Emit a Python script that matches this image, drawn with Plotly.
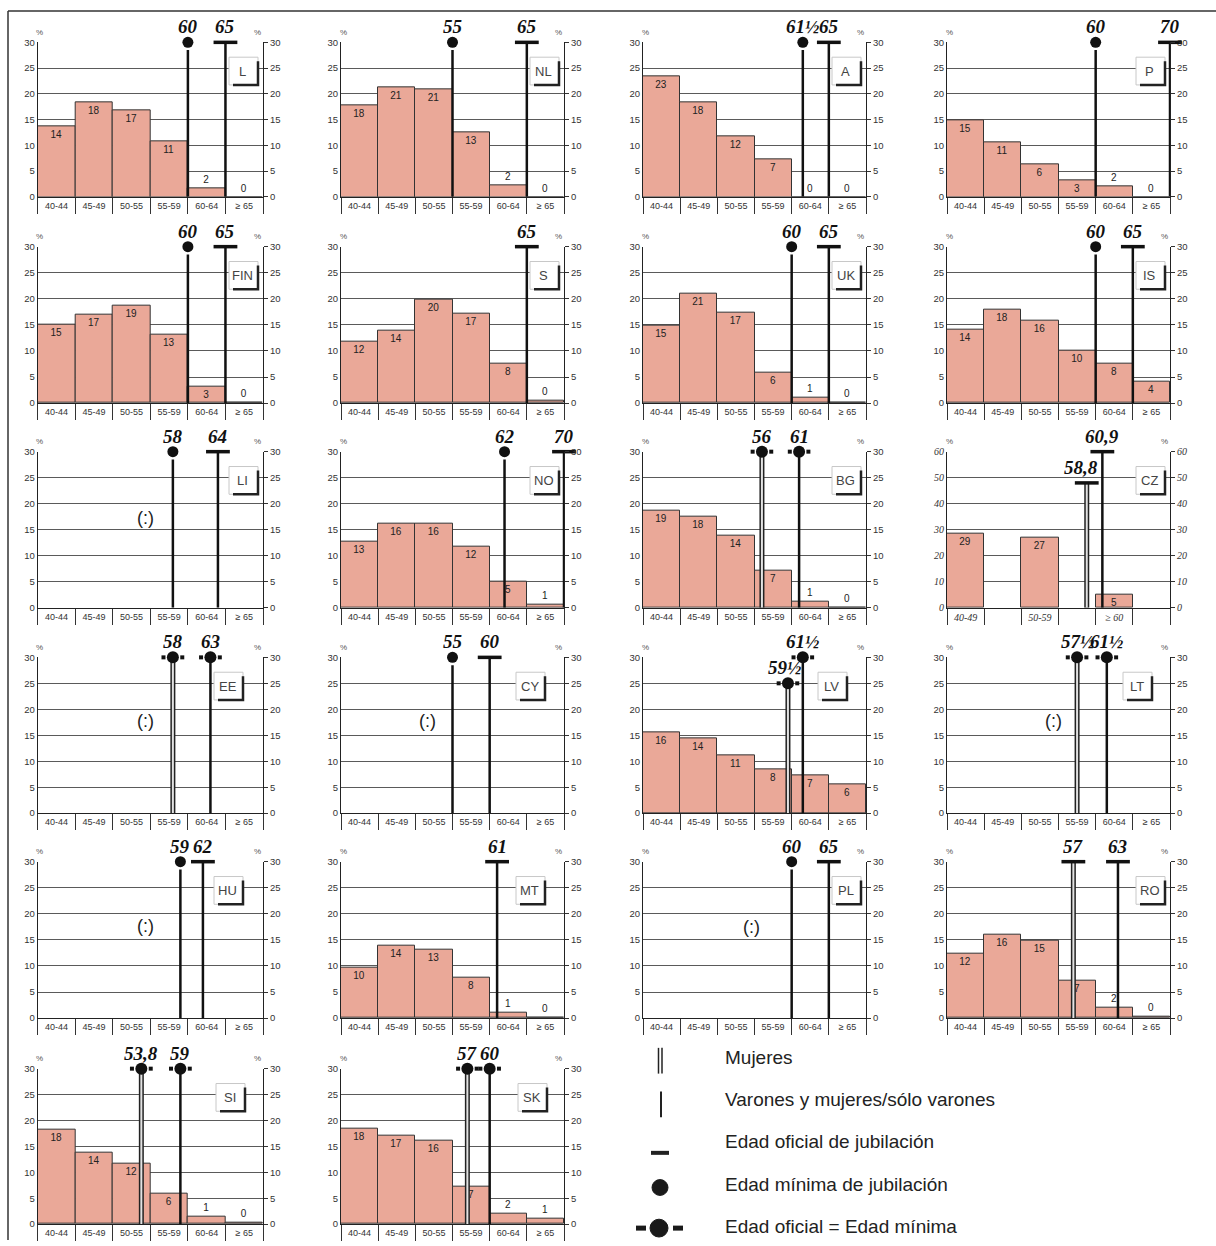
import plotly.graph_objects as go

W, H = 1216, 1246

# ---------------- data ----------------
categories = ["40-44", "45-49", "50-55", "55-59", "60-64", "≥ 65"]
cz_categories = ["40-49", "50-59", "≥ 60"]

countries = ["L", "NL", "A", "P", "FIN", "S", "UK", "IS", "LI", "NO", "BG", "CZ",
             "EE", "CY", "LV", "LT", "HU", "MT", "PL", "RO", "SI", "SK"]

share_L = [13.6, 18.3, 16.8, 10.7, 1.6, 0.0]
share_NL = [17.7, 21.3, 20.8, 12.6, 2.3, 0.0]
share_A = [23.4, 18.4, 11.7, 7.2, 0.0, 0.0]
share_P = [14.8, 10.6, 6.4, 3.3, 2.1, 0.0]
share_FIN = [15.0, 16.9, 18.6, 13.1, 3.2, 0.0]
share_S = [11.8, 13.9, 19.9, 17.1, 7.6, 0.4]
share_UK = [14.8, 20.9, 17.3, 5.9, 1.0, 0.0]
share_IS = [14.0, 18.0, 15.8, 10.1, 7.6, 4.2]
share_LI = None
share_NO = [12.7, 16.2, 16.2, 11.7, 5.1, 0.6]
share_BG = [18.7, 17.6, 13.8, 7.2, 1.1, 0.0]
share_CZ = [28.6, 27.0, 4.9]
share_EE = None
share_CY = None
share_LV = [15.6, 14.4, 11.2, 8.4, 7.2, 5.6]
share_LT = None
share_HU = None
share_MT = [9.7, 13.9, 13.1, 7.8, 1.0, 0.0]
share_PL = None
share_RO = [12.4, 16.0, 14.9, 7.1, 2.1, 0.2]
share_SI = [18.2, 13.8, 11.7, 5.9, 1.4, 0.3]
share_SK = [18.4, 17.0, 16.2, 7.3, 2.0, 1.1]

shares = [share_L, share_NL, share_A, share_P, share_FIN, share_S, share_UK, share_IS,
          share_LI, share_NO, share_BG, share_CZ, share_EE, share_CY, share_LV, share_LT,
          share_HU, share_MT, share_PL, share_RO, share_SI, share_SK]

# retirement ages: (age, label, kind, women)  kind: min / off / eq (official = minimum)
ages_L = [(60, "60", "min", False), (65, "65", "off", False)]
ages_NL = [(55, "55", "min", False), (65, "65", "off", False)]
ages_A = [(61.5, "61½", "min", False), (65, "65", "off", False)]
ages_P = [(60, "60", "min", False), (70, "70", "off", False)]
ages_FIN = [(60, "60", "min", False), (65, "65", "off", False)]
ages_S = [(65, "65", "off", False)]
ages_UK = [(60, "60", "min", False), (65, "65", "off", False)]
ages_IS = [(60, "60", "min", False), (65, "65", "off", False)]
ages_LI = [(58, "58", "min", False), (64, "64", "off", False)]
ages_NO = [(62, "62", "min", False), (70, "70", "off", False)]
ages_BG = [(56, "56", "eq", True), (61, "61", "eq", False)]
ages_CZ = [(58.8, "58,8", "off", True), (60.9, "60,9", "off", False)]
ages_EE = [(58, "58", "eq", True), (63, "63", "eq", False)]
ages_CY = [(55, "55", "min", False), (60, "60", "off", False)]
ages_LV = [(59.5, "59½", "eq", True), (61.5, "61½", "eq", False)]
ages_LT = [(57.5, "57½", "eq", True), (61.5, "61½", "eq", False)]
ages_HU = [(59, "59", "min", False), (62, "62", "off", False)]
ages_MT = [(61, "61", "off", False)]
ages_PL = [(60, "60", "min", False), (65, "65", "off", False)]
ages_RO = [(57, "57", "off", True), (63, "63", "off", False)]
ages_SI = [(53.8, "53,8", "eq", True), (59, "59", "eq", False)]
ages_SK = [(57, "57", "eq", True), (60, "60", "eq", False)]

ages = [ages_L, ages_NL, ages_A, ages_P, ages_FIN, ages_S, ages_UK, ages_IS,
        ages_LI, ages_NO, ages_BG, ages_CZ, ages_EE, ages_CY, ages_LV, ages_LT,
        ages_HU, ages_MT, ages_PL, ages_RO, ages_SI, ages_SK]

legend_labels = ["Mujeres", "Varones y mujeres/sólo varones", "Edad oficial de jubilación",
                 "Edad mínima de jubilación", "Edad oficial = Edad mínima"]
no_data_text = "(:)"

# ---------------- styles / layout positions ----------------
SANS = "Liberation Sans, Arial, sans-serif"
SERIF = "Liberation Serif, Times New Roman, serif"
BAR = "#EAA898"
INK = "#111111"

col_left = [37.7, 341, 643, 947]
col_right = [263, 564, 866, 1170]
row_top = [36.7, 243, 450, 657.7, 864, 1073]
row_bottom = [192.7, 401, 607.7, 815, 1022, 1230]

box_offset = {"EE": 20, "HU": 20, "CY": 19, "MT": 19, "LV": 19, "LT": 18, "SI": 18, "SK": 17}
level_override = {("CZ", 58.8): 48, ("LV", 59.5): 25}
label_xshift = {("CZ", 58.8): -6, ("LV", 59.5): -3}
no_data_pos = {"LI": (2.86, 17.3), "EE": (2.86, 17.8), "CY": (2.34, 17.8),
               "LT": (2.86, 17.8), "HU": (2.86, 17.7), "PL": (2.92, 17.5)}
no_right_pct = {"P", "NO"}


def ax(p, n):
    return p if n == 1 else f"{p}{n}"


def key(p, n):
    return f"{p}axis" if n == 1 else f"{p}axis{n}"


def px(x):
    return x / W


def py(y):
    return 1 - y / H


def ptext(x, y, text, font, xanchor="center"):
    return dict(x=px(x), y=py(y), xref="paper", yref="paper", text=text, showarrow=False,
                xanchor=xanchor, yanchor="middle", font=font)


fig = go.Figure()
layout = dict(width=W, height=H, margin=dict(l=0, r=0, t=0, b=0), autosize=False,
              paper_bgcolor="white", plot_bgcolor="white", showlegend=False,
              bargap=0, uniformtext=dict(minsize=9, mode="show"), hovermode=False)
shapes = []
annotations = []

N = len(countries)
for k, c in enumerate(countries):
    r, col = divmod(k, 4)
    n = k + 1
    nr = N + n
    L, R, T, B = col_left[col], col_right[col], row_top[r], row_bottom[r]
    is_cz = c == "CZ"
    ymax = 60 if is_cz else 30
    dt = 10 if is_cz else 5
    tfont = dict(family=SERIF if is_cz else SANS, size=10 if is_cz else 9.5, color="#333",
                 style="italic" if is_cz else "normal")
    if is_cz:
        tv, tt = [0.5, 2.5, 4.5], cz_categories
    else:
        tv, tt = [i + 0.5 for i in range(6)], categories
    layout[key("x", n)] = dict(
        domain=[px(L), px(R)], anchor=ax("y", n), range=[0, 6], showgrid=False,
        zeroline=False, showline=True, linecolor="#222", linewidth=1,
        tickmode="array", tickvals=tv, ticktext=tt, ticks="",
        tickfont=dict(family=SERIF if is_cz else SANS, size=10 if is_cz else 9, color="#333",
                      style="italic" if is_cz else "normal"),
        minor=dict(tickmode="array", tickvals=[0, 1, 2, 3, 4, 5, 6], ticks="outside",
                   ticklen=16, tickcolor="#333", tickwidth=1),
        fixedrange=True)
    layout[key("y", n)] = dict(
        domain=[py(B), py(T)], anchor=ax("x", n), range=[0, ymax], tick0=0, dtick=dt,
        showgrid=True, gridcolor="#5a5a5a", gridwidth=1, zeroline=False, showline=True,
        linecolor="#222", linewidth=1, ticks="", tickfont=tfont, fixedrange=True)
    layout[key("y", nr)] = dict(
        overlaying=ax("y", n), anchor=ax("x", n), side="right", range=[0, ymax], tick0=0,
        dtick=dt, showgrid=False, zeroline=False, showline=True, linecolor="#222",
        linewidth=1, ticks="outside", ticklen=4, tickcolor="#333", tickfont=tfont,
        fixedrange=True)

    vals = shares[k]
    if vals is not None:
        xs = tv
        pos = ["inside" if (is_cz or v >= 3) else "outside" for v in vals]
        fig.add_trace(go.Bar(
            x=xs, y=vals, width=1, xaxis=ax("x", n), yaxis=ax("y", n),
            marker=dict(color=BAR, line=dict(color="#333", width=1)),
            text=[str(round(v)) for v in vals], textposition=pos,
            insidetextanchor="end", textangle=0,
            textfont=dict(family=SANS, size=10, color="#222"), cliponaxis=False,
            hoverinfo="skip"))
    else:
        nx, ny = no_data_pos[c]
        annotations.append(dict(x=nx, y=ny, xref=ax("x", n), yref=ax("y", n),
                                text=no_data_text, showarrow=False, xanchor="center",
                                yanchor="middle",
                                font=dict(family=SANS, size=18, color="#222")))

    # retirement-age lines
    for (age, lab, kind, women) in ages[k]:
        xv = (age - 40) / 5
        lvl = level_override.get((c, age), ymax)
        top = lvl - (0.05 * ymax if kind == "min" else 0)
        xa, ya = ax("x", n), ax("y", nr)
        if women:
            fig.add_trace(go.Scatter(x=[xv, xv], y=[0, top], mode="lines", xaxis=xa, yaxis=ya,
                                     line=dict(color="#222", width=5), cliponaxis=False,
                                     hoverinfo="skip"))
            fig.add_trace(go.Scatter(x=[xv, xv], y=[0, top], mode="lines", xaxis=xa, yaxis=ya,
                                     line=dict(color="#e2e2e2", width=2), cliponaxis=False,
                                     hoverinfo="skip"))
        else:
            fig.add_trace(go.Scatter(x=[xv, xv], y=[0, top], mode="lines", xaxis=xa, yaxis=ya,
                                     line=dict(color=INK, width=2.5), cliponaxis=False,
                                     hoverinfo="skip"))
        if kind == "min":
            fig.add_trace(go.Scatter(x=[xv], y=[lvl], mode="markers", xaxis=xa, yaxis=ya,
                                     marker=dict(symbol="circle", size=11, color=INK),
                                     cliponaxis=False, hoverinfo="skip"))
        elif kind == "off":
            fig.add_trace(go.Scatter(x=[xv], y=[lvl], mode="markers", xaxis=xa, yaxis=ya,
                                     marker=dict(symbol="line-ew", size=17,
                                                 line=dict(color=INK, width=3.5)),
                                     cliponaxis=False, hoverinfo="skip"))
        else:
            fig.add_trace(go.Scatter(x=[xv - 0.25, xv + 0.25], y=[lvl, lvl], mode="markers",
                                     xaxis=xa, yaxis=ya,
                                     marker=dict(symbol="square", size=4, color=INK),
                                     cliponaxis=False, hoverinfo="skip"))
            fig.add_trace(go.Scatter(x=[xv], y=[lvl], mode="markers", xaxis=xa, yaxis=ya,
                                     marker=dict(symbol="circle", size=12, color=INK),
                                     cliponaxis=False, hoverinfo="skip"))
        annotations.append(dict(x=xv, y=lvl, xref=ax("x", n), yref=ax("y", n),
                                text=f"<b><i>{lab}</i></b>", showarrow=False,
                                xanchor="center", yanchor="bottom", yshift=3,
                                xshift=label_xshift.get((c, age), 0),
                                font=dict(family=SERIF, size=19, color=INK)))

    # % labels
    pfont = dict(family=SANS, size=8, color="#555")
    annotations.append(ptext(L + 2, T - 10, "%", pfont))
    if c not in no_right_pct:
        annotations.append(ptext(R - 6, T - 10, "%", pfont))

    # country box
    off = box_offset.get(c, 5)
    bx1 = R - off
    bx0 = bx1 - 29
    by0 = T + 15
    by1 = by0 + 28
    shapes.append(dict(type="rect", xref="paper", yref="paper", x0=px(bx0), x1=px(bx1),
                       y0=py(by1), y1=py(by0), fillcolor="white",
                       line=dict(color="#c8c8c8", width=1), layer="above"))
    shapes.append(dict(type="path", xref="paper", yref="paper",
                       path=f"M {px(bx0 + 4)},{py(by1)} L {px(bx1)},{py(by1)} L {px(bx1)},{py(by0 + 4)}",
                       line=dict(color="#222", width=2.5), layer="above"))
    annotations.append(ptext((bx0 + bx1) / 2 - 1, (by0 + by1) / 2, c,
                             dict(family=SANS, size=13, color="#444")))

# frame lines
shapes.append(dict(type="line", xref="paper", yref="paper", x0=px(8), x1=px(8), y0=py(5), y1=0,
                   line=dict(color="#333", width=1.5)))
shapes.append(dict(type="line", xref="paper", yref="paper", x0=px(8), x1=1, y0=py(5), y1=py(5),
                   line=dict(color="#333", width=1.5)))

# legend symbols
shapes.append(dict(type="line", xref="paper", yref="paper", x0=px(658.5), x1=px(658.5),
                   y0=py(1052), y1=py(1078), line=dict(color="#222", width=1.5)))
shapes.append(dict(type="line", xref="paper", yref="paper", x0=px(662), x1=px(662),
                   y0=py(1052), y1=py(1078), line=dict(color="#222", width=1.5)))
shapes.append(dict(type="line", xref="paper", yref="paper", x0=px(661), x1=px(661),
                   y0=py(1096), y1=py(1122), line=dict(color="#222", width=2)))
shapes.append(dict(type="line", xref="paper", yref="paper", x0=px(651), x1=px(669),
                   y0=py(1158), y1=py(1158), line=dict(color="#222", width=4)))
shapes.append(dict(type="circle", xref="paper", yref="paper", x0=px(652), x1=px(668),
                   y0=py(1201), y1=py(1185), fillcolor="#1a1a1a", line=dict(color="#1a1a1a", width=1)))
shapes.append(dict(type="circle", xref="paper", yref="paper", x0=px(650), x1=px(668),
                   y0=py(1243), y1=py(1225), fillcolor="#1a1a1a", line=dict(color="#1a1a1a", width=1)))
shapes.append(dict(type="line", xref="paper", yref="paper", x0=px(636), x1=px(646),
                   y0=py(1234), y1=py(1234), line=dict(color="#1a1a1a", width=5)))
shapes.append(dict(type="line", xref="paper", yref="paper", x0=px(673), x1=px(683),
                   y0=py(1234), y1=py(1234), line=dict(color="#1a1a1a", width=5)))
legend_text_y = [1062, 1104, 1147, 1190, 1232]
for t, yy in zip(legend_labels, legend_text_y):
    annotations.append(ptext(723, yy, t, dict(family=SANS, size=19, color="#222"),
                             xanchor="left"))

layout["shapes"] = shapes
layout["annotations"] = annotations
fig.update_layout(**layout)
fig.write_html(
    "out.html",
    config={"displayModeBar": False},
    post_script="document.body.style.margin='0';document.body.style.overflow='hidden';",
)
